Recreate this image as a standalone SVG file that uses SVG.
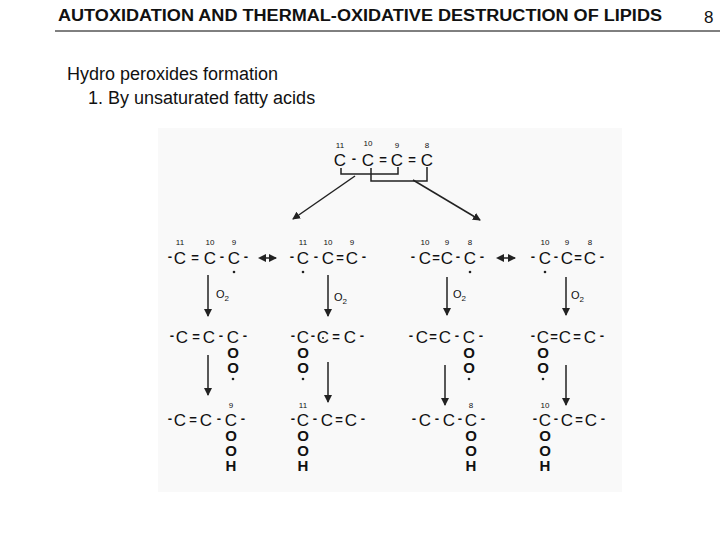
<svg xmlns="http://www.w3.org/2000/svg" width="720" height="540" viewBox="0 0 720 540">
<style>
text{font-family:"Liberation Sans",Arial,sans-serif;fill:#111}
.t{font-size:16px;font-weight:bold}
.h{font-size:18px}
.c{font-size:17px;text-anchor:middle}
.s{font-size:15px;text-anchor:middle;font-weight:bold}
.b{font-size:13px;text-anchor:middle;font-weight:bold}
.n{font-size:8px;text-anchor:middle}
.o{font-size:11px}
.ln{stroke:#222;stroke-width:1.5;fill:none}
.ar{stroke:#222;stroke-width:1.5;fill:none;marker-end:url(#a)}
</style>
<defs><marker id="a" markerWidth="8" markerHeight="8" refX="7" refY="4" orient="auto" markerUnits="userSpaceOnUse"><path d="M0,0L8,4L0,8z" fill="#222"/></marker>
<marker id="s" markerWidth="8" markerHeight="8" refX="1" refY="4" orient="auto-start-reverse" markerUnits="userSpaceOnUse"><path d="M0,0L8,4L0,8z" fill="#222"/></marker></defs>
<rect width="720" height="540" fill="#fff"/>
<text class="t" x="58" y="21" textLength="604" lengthAdjust="spacingAndGlyphs">AUTOXIDATION AND THERMAL-OXIDATIVE DESTRUCTION OF LIPIDS</text>
<text x="704" y="23" font-size="17">8</text>
<line x1="55" y1="31" x2="720" y2="31" stroke="#000" stroke-width="1"/>
<text class="h" x="67" y="80">Hydro peroxides formation</text>
<text class="h" x="88" y="104">1. By unsaturated fatty acids</text>
<rect x="158" y="128" width="464" height="364" fill="#f9f9f9"/>
<g id="top">
<text class="n" x="340" y="148">11</text><text class="n" x="368" y="146">10</text><text class="n" x="397" y="148">9</text><text class="n" x="427" y="148">8</text>
<text class="c" x="340" y="166">C</text><text class="b" x="354" y="163">-</text><text class="c" x="368" y="166">C</text><text class="b" x="383" y="164">=</text><text class="c" x="397" y="166">C</text><text class="b" x="412" y="164">=</text><text class="c" x="427" y="166">C</text>
<path class="ln" d="M341,168V174H398V167M371,168V181H427V167" stroke-width="1.2"/>
</g>
<g id="connectors">
<line class="ar" x1="355" y1="176" x2="293" y2="219"/>
<line class="ar" x1="413" y1="180" x2="480" y2="220"/>
<line x1="265" y1="258" x2="276" y2="258" class="ln" marker-start="url(#s)" marker-end="url(#a)" stroke-width="1"/>
<line x1="503" y1="258" x2="515" y2="258" class="ln" marker-start="url(#s)" marker-end="url(#a)" stroke-width="1"/>
<line class="ar" x1="208" y1="275" x2="208" y2="316"/>
<line class="ar" x1="328" y1="275" x2="328" y2="316" stroke-width="2.5"/>
<line class="ar" x1="447" y1="277" x2="447" y2="315"/>
<line class="ar" x1="566" y1="277" x2="566" y2="315"/>
<line class="ar" x1="208" y1="355" x2="208" y2="395"/>
<line class="ar" x1="328" y1="362" x2="328" y2="402" stroke-width="2"/>
<line class="ar" x1="445" y1="365" x2="445" y2="405" stroke-width="2"/>
<line class="ar" x1="566" y1="365" x2="566" y2="405"/>
<text class="o" x="216" y="298">O<tspan font-size="8" dy="3">2</tspan></text>
<text class="o" x="334" y="301">O<tspan font-size="8" dy="3">2</tspan></text>
<text class="o" x="453" y="298">O<tspan font-size="8" dy="3">2</tspan></text>
<text class="o" x="571" y="299">O<tspan font-size="8" dy="3">2</tspan></text>
</g>
<g id="r1g1">
<text class="n" x="180" y="245">11</text><text class="n" x="210" y="245">10</text><text class="n" x="234" y="245">9</text>
<text class="b" x="170" y="261">-</text><text class="c" x="180" y="264">C</text><text class="b" x="195" y="262">=</text><text class="c" x="210" y="264">C</text><text class="b" x="222" y="261">-</text><text class="c" x="234" y="264">C</text><text class="b" x="246" y="261">-</text>
<circle cx="234" cy="272" r="1.3" fill="#222"/>
</g>
<g id="r1g2">
<text class="n" x="303" y="245">11</text><text class="n" x="328" y="245">10</text><text class="n" x="352" y="245">9</text>
<text class="b" x="292" y="261">-</text><text class="c" x="303" y="264">C</text><text class="b" x="316" y="261">-</text><text class="c" x="328" y="264">C</text><text class="b" x="340" y="262">=</text><text class="c" x="352" y="264">C</text><text class="b" x="364" y="261">-</text>
<circle cx="303" cy="272" r="1.3" fill="#222"/>
</g>
<g id="r1g3">
<text class="n" x="425" y="245">10</text><text class="n" x="447" y="245">9</text><text class="n" x="470" y="245">8</text>
<text class="b" x="413" y="261">-</text><text class="c" x="425" y="264">C</text><text class="b" x="436" y="262">=</text><text class="c" x="447" y="264">C</text><text class="b" x="458" y="261">-</text><text class="c" x="470" y="264">C</text><text class="b" x="482" y="261">-</text>
<circle cx="470" cy="272" r="1.3" fill="#222"/>
</g>
<g id="r1g4">
<text class="n" x="545" y="245">10</text><text class="n" x="567" y="245">9</text><text class="n" x="590" y="245">8</text>
<text class="b" x="533" y="261">-</text><text class="c" x="545" y="264">C</text><text class="b" x="556" y="261">-</text><text class="c" x="567" y="264">C</text><text class="b" x="578" y="262">=</text><text class="c" x="590" y="264">C</text><text class="b" x="602" y="261">-</text>
<circle cx="545" cy="272" r="1.3" fill="#222"/>
</g>
<g id="r2g1">
<text class="b" x="172" y="340">-</text><text class="c" x="182" y="343">C</text><text class="b" x="196" y="341">=</text><text class="c" x="209" y="343">C</text><text class="b" x="221" y="340">-</text><text class="c" x="233" y="343">C</text><text class="b" x="245" y="340">-</text>
<text class="s" x="233" y="358">O</text><text class="s" x="233" y="373">O</text><circle cx="233" cy="379" r="1.3" fill="#222"/>
</g>
<g id="r2g2">
<text class="b" x="293" y="340">-</text><text class="c" x="303" y="343">C</text><text class="b" x="313" y="340">-</text><text class="c" x="323" y="343">C</text><circle cx="323" cy="338" r="1" fill="#222"/><text class="b" x="336" y="341">=</text><text class="c" x="350" y="343">C</text><text class="b" x="362" y="340">-</text>
<text class="s" x="303" y="358">O</text><text class="s" x="303" y="373">O</text><circle cx="303" cy="379" r="1.3" fill="#222"/>
</g>
<g id="r2g3">
<text class="b" x="411" y="340">-</text><text class="c" x="422" y="343">C</text><text class="b" x="433" y="341">=</text><text class="c" x="445" y="343">C</text><text class="b" x="457" y="340">-</text><text class="c" x="469" y="343">C</text><text class="b" x="481" y="340">-</text>
<text class="s" x="469" y="358">O</text><text class="s" x="469" y="373">O</text><circle cx="469" cy="379" r="1.3" fill="#222"/>
</g>
<g id="r2g4">
<text class="b" x="533" y="340">-</text><text class="c" x="543" y="343">C</text><text class="b" x="554" y="341">=</text><text class="c" x="565" y="343">C</text><text class="b" x="577" y="341">=</text><text class="c" x="590" y="343">C</text><text class="b" x="602" y="340">-</text>
<text class="s" x="543" y="358">O</text><text class="s" x="543" y="373">O</text><circle cx="543" cy="379" r="1.3" fill="#222"/>
</g>
<g id="r3g1">
<text class="n" x="231" y="408">9</text>
<text class="b" x="170" y="423">-</text><text class="c" x="180" y="426">C</text><text class="b" x="193" y="424">=</text><text class="c" x="206" y="426">C</text><text class="b" x="219" y="423">-</text><text class="c" x="231" y="426">C</text><text class="b" x="243" y="423">-</text>
<text class="s" x="231" y="441">O</text><text class="s" x="231" y="456">O</text><text class="s" x="231" y="471">H</text>
</g>
<g id="r3g2">
<text class="n" x="303" y="408">11</text>
<text class="b" x="293" y="423">-</text><text class="c" x="303" y="426">C</text><text class="b" x="315" y="423">-</text><text class="c" x="327" y="426">C</text><text class="b" x="339" y="424">=</text><text class="c" x="351" y="426">C</text><text class="b" x="363" y="423">-</text>
<text class="s" x="303" y="441">O</text><text class="s" x="303" y="456">O</text><text class="s" x="303" y="471">H</text>
</g>
<g id="r3g3">
<text class="n" x="471" y="408">8</text>
<text class="b" x="414" y="423">-</text><text class="c" x="425" y="426">C</text><text class="b" x="437" y="423">-</text><text class="c" x="449" y="426">C</text><text class="b" x="460" y="423">-</text><text class="c" x="471" y="426">C</text><text class="b" x="483" y="423">-</text>
<text class="s" x="471" y="441">O</text><text class="s" x="471" y="456">O</text><text class="s" x="471" y="471">H</text>
</g>
<g id="r3g4">
<text class="n" x="545" y="408">10</text>
<text class="b" x="535" y="423">-</text><text class="c" x="545" y="426">C</text><text class="b" x="556" y="423">-</text><text class="c" x="567" y="426">C</text><text class="b" x="579" y="424">=</text><text class="c" x="591" y="426">C</text><text class="b" x="603" y="423">-</text>
<text class="s" x="545" y="441">O</text><text class="s" x="545" y="456">O</text><text class="s" x="545" y="471">H</text>
</g>
</svg>
